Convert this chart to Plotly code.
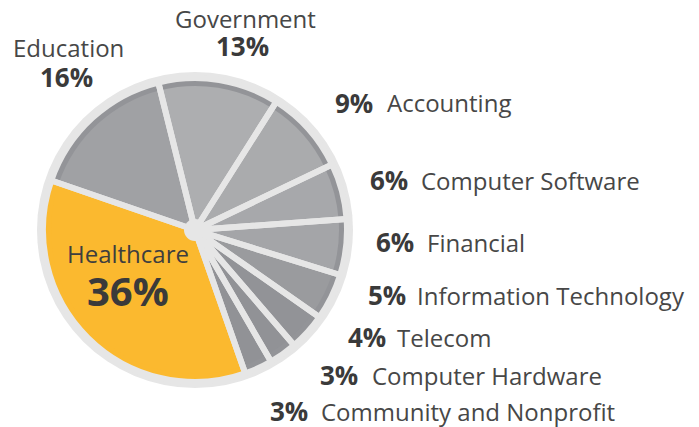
import plotly.graph_objects as go

# ---- data ----
sectors = ["Education", "Government", "Accounting", "Computer Software", "Financial",
           "Information Technology", "Telecom", "Computer Hardware",
           "Community and Nonprofit", "Healthcare"]
shares = [16, 13, 9, 6, 6, 5, 4, 3, 3, 36]
pct_labels = ["16%", "13%", "9%", "6%", "6%", "5%", "4%", "3%", "3%", "36%"]

# ---- styling ----
OFF = 8  # page body margin
W, H = 699 - OFF, 427 - OFF
CX, CY = 195 - OFF, 230 - OFF
YELLOW = "#FBB92F"
RIM = "#939498"
inner_colors = ["#a0a1a4", "#adaeb0", "#aaabad", "#a7a8ab", "#a4a5a8",
                "#9a9b9e", "#929397", "#919296", "#919296", YELLOW]
rim_colors = [RIM] * 9 + [YELLOW]
LIGHT = "#e6e6e6"
ROT = -71


def dom(r):
    return dict(x=[(CX - r) / W, (CX + r) / W], y=[1 - (CY + r) / H, 1 - (CY - r) / H])


def px(x, y):
    return (x - OFF) / W, 1 - (y - OFF) / H


fig = go.Figure()
# outer light ring
fig.add_trace(go.Pie(values=[1], marker=dict(colors=[LIGHT], line=dict(width=0)),
                     domain=dom(158), textinfo="none", hoverinfo="skip", sort=False, showlegend=False))
# darker rim
fig.add_trace(go.Pie(values=shares, labels=sectors, marker=dict(colors=rim_colors, line=dict(width=0)),
                     domain=dom(152), textinfo="none", hoverinfo="skip", sort=False,
                     direction="clockwise", rotation=ROT, showlegend=False))
# inner fill
fig.add_trace(go.Pie(values=shares, labels=sectors, marker=dict(colors=inner_colors, line=dict(width=0)),
                     domain=dom(144), textinfo="none", hoverinfo="skip", sort=False,
                     direction="clockwise", rotation=ROT, showlegend=False))
# separators
fig.add_trace(go.Pie(values=shares, labels=sectors,
                     marker=dict(colors=["rgba(0,0,0,0)"] * len(shares), line=dict(width=6, color=LIGHT)),
                     domain=dom(152), textinfo="none", hoverinfo="skip", sort=False,
                     direction="clockwise", rotation=ROT, showlegend=False))
# hub
fig.add_trace(go.Pie(values=[1], marker=dict(colors=[LIGHT], line=dict(width=0)),
                     domain=dom(11), textinfo="none", hoverinfo="skip", sort=False, showlegend=False))

FONT = "Open Sans"
NAME_C = "#474747"
NUM_C = "#3a3a3a"
NAME_S = 24
NUM_S = 26
anns = []


def add(text, x, y, size, color, bold=False, xanchor="center"):
    xx, yy = px(x, y)
    t = f"<b>{text}</b>" if bold else text
    anns.append(dict(text=t, x=xx, y=yy, xref="paper", yref="paper", xanchor=xanchor,
                     yanchor="middle", showarrow=False, borderpad=0,
                     font=dict(family=FONT, size=size, color=color)))


# top-left labels (name above percent)
add(sectors[0], 68, 47, NAME_S, NAME_C)
add(pct_labels[0], 67, 77, NUM_S, NUM_C, bold=True)
add(sectors[1], 245, 19, NAME_S, NAME_C)
add(pct_labels[1], 242, 46, NUM_S, NUM_C, bold=True)

# right-hand labels: percent then name
right = [(2, 372, 388, 103), (3, 407, 422, 180), (4, 413, 428, 242), (5, 405, 418, 295),
         (6, 385, 398, 337), (7, 357, 373, 375), (8, 307, 322, 411)]
for i, xp, xn, y in right:
    add(pct_labels[i], xp + 2, y, NUM_S, NUM_C, bold=True, xanchor="right")
    add(sectors[i], xn - 2, y, NAME_S, NAME_C, xanchor="left")

# healthcare inside
add(sectors[9], 128, 253, NAME_S, "#3e3e3e")
add(pct_labels[9], 128, 290, 40, NUM_C, bold=True)

fig.update_layout(width=W, height=H, margin=dict(l=0, r=0, t=0, b=0),
                  paper_bgcolor="white", plot_bgcolor="white", annotations=anns)
fig.write_html("out.html")
